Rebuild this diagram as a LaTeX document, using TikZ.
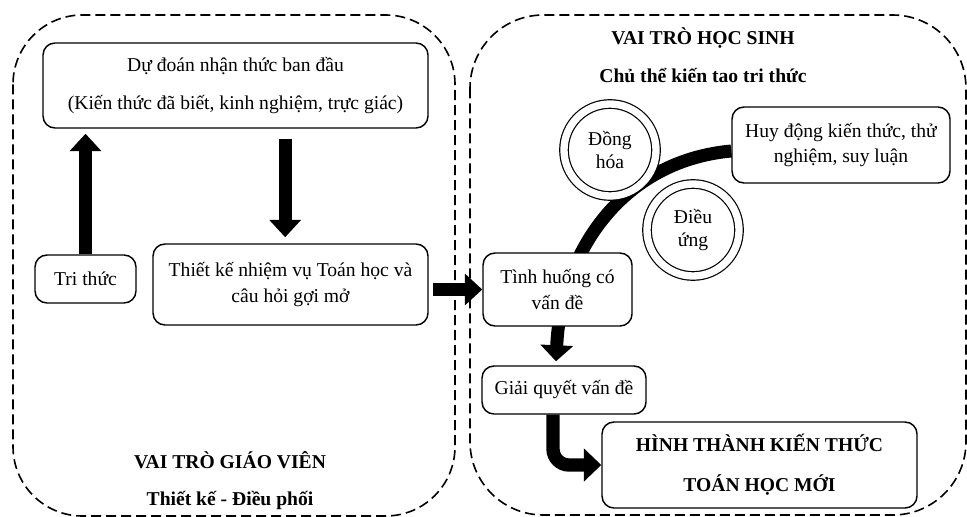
\documentclass[tikz,border=0pt]{standalone}
\usepackage{fontspec}
\setmainfont{Liberation Serif}
\usetikzlibrary{arrows.meta,backgrounds,calc}

\begin{document}
\begin{tikzpicture}[
x=0.75pt, y=-0.75pt,
font=\fontsize{14.7}{17.6}\selectfont,
box/.style={rectangle, draw, line width=1.1pt, rounded corners=9pt, fill=white, align=center, inner sep=2pt},
ring/.style={circle, draw, line width=0.9pt, double, double distance=5.5pt, fill=white, minimum size=69pt, inner sep=0pt, align=center},
panel/.style={draw, line width=1.2pt, dash pattern=on 7.5pt off 3.75pt},
title/.style={font=\fontsize{14.7}{17.6}\selectfont\bfseries},
arrow/.style={-{Triangle[width=23pt, length=13pt]}, line width=10pt}
]
\useasboundingbox (0,0) rectangle (967,517);

% Dashed panels
\draw [panel, rounded corners=52pt] (13,15) rectangle (455,516);
\draw [panel, rounded corners=55pt] (470,15) rectangle (966,515);

% Teacher nodes
\node (du_doan) [box, minimum width=288.75pt, minimum height=63.75pt] at (235.5,85.5) {Dự đoán nhận thức ban đầu\\[10.9pt](Kiến thức đã biết, kinh nghiệm, trực giác)};
\node (tri_thuc) [box, minimum width=75.75pt, minimum height=36pt] at (85.5,279) {Tri thức};
\node (thiet_ke) [box, minimum width=206.25pt, minimum height=60.75pt] at (290.5,284.5) {Thiết kế nhiệm vụ Toán học và\\[1.9pt]câu hỏi gợi mở};
\node (gv_title) [title] at (230,460) {VAI TRÒ GIÁO VIÊN};
\node (gv_sub) [title] at (230,500) {Thiết kế - Điều phối};

% Student nodes
\node (hs_title) [title] at (703,38) {VAI TRÒ HỌC SINH};
\node (hs_sub) [title] at (703,75) {Chủ thể kiến tao tri thức};
\node (huy_dong) [box, minimum width=163.5pt, minimum height=57pt] at (841,145) {Huy động kiến thức, thử\\[1.2pt]nghiệm, suy luận};
\node (dong_hoa) [ring] at (610,150) {Đồng\\hóa};
\node (dieu_ung) [ring] at (693,230) {Điều\\ứng};
\node (tinh_huong) [box, minimum width=111.75pt, minimum height=54.75pt] at (557.5,289.5) {Tình huống có\\[2.4pt]vấn đề};
\node (giai_quyet) [box, minimum width=123pt, minimum height=36pt] at (564,390) {Giải quyết vấn đề};
\node (hinh_thanh) [box, minimum width=236.25pt, minimum height=64.5pt, font=\fontsize{14.7}{17.6}\selectfont\bfseries] at (759.5,465) {HÌNH THÀNH KIẾN THỨC\\[12.4pt]TOÁN HỌC MỚI};

% Arrows
\draw [arrow, shorten >=3.75pt] (tri_thuc.north) -- (tri_thuc.north |- du_doan.south);
\draw [arrow, shorten <=7.5pt, shorten >=4.5pt] ([xshift=-4pt]thiet_ke.north |- du_doan.south) -- ([xshift=-4pt]thiet_ke.north);
\draw [arrow, shorten <=3pt] (thiet_ke.east |- tinh_huong.west) -- (tinh_huong.west);
\draw [arrow, -{Triangle[width=24pt, length=13pt]}, rounded corners=12pt] ([xshift=-8.25pt]giai_quyet.south) |- (hinh_thanh.west);

% Curved arrow behind the boxes
\begin{scope}[on background layer]
\draw [arrow, line width=9.75pt, -{Triangle[width=24pt, length=12pt]}] ($(huy_dong.west)+(0,6)$) .. controls (622,161) and (561,252) .. ([xshift=-6pt, yshift=3pt]giai_quyet.north);
\end{scope}

\end{tikzpicture}
\end{document}
